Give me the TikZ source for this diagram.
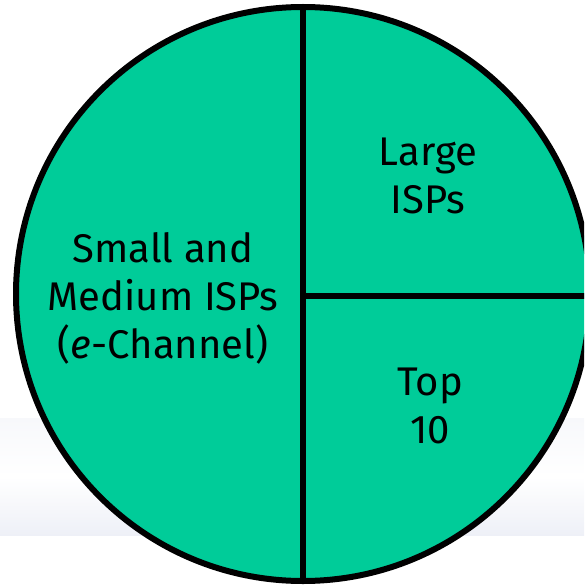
\documentclass[tikz,border=0pt]{standalone}
\usepackage{fontspec}
\setmainfont{Fira Sans}
\definecolor{segfill}{HTML}{00CC99}
\definecolor{bandtop}{HTML}{F7F8FB}
\definecolor{bandbot}{HTML}{EEF0F7}
\begin{document}
\begin{tikzpicture}[x=1pt,y=-1pt,
  seglabel/.style={align=center,font=\fontsize{40}{48}\selectfont,text=black,inner sep=0pt}]
\useasboundingbox (0,0) rectangle (584,588);
\clip (0,0) rectangle (584,588);
% pale band behind the lower part of the chart
\shade[top color=bandtop,bottom color=bandbot,middle color=white] (0,418) rectangle (584,535);
% the pie
\coordinate (c) at (303,294);
\fill[segfill] (c) circle[radius=287];
\coordinate (ctop) at (303,7);
\coordinate (cbot) at (303,581);
\coordinate (cright) at (590,296);
\coordinate (cmid) at (303,296);
\draw[line width=6pt] (ctop) -- (cbot);
\draw[line width=6pt] (cmid) -- (cright);
\draw[line width=6pt] (c) circle[radius=287];
\node[seglabel] (large) at (428,176) {Large\\ISPs};
\node[seglabel] (small) at (163,298) {Small and\\Medium ISPs\\(\textit{e}-Channel)};
\node[seglabel] (top) at (430,406) {Top\\10};
\end{tikzpicture}
\end{document}
